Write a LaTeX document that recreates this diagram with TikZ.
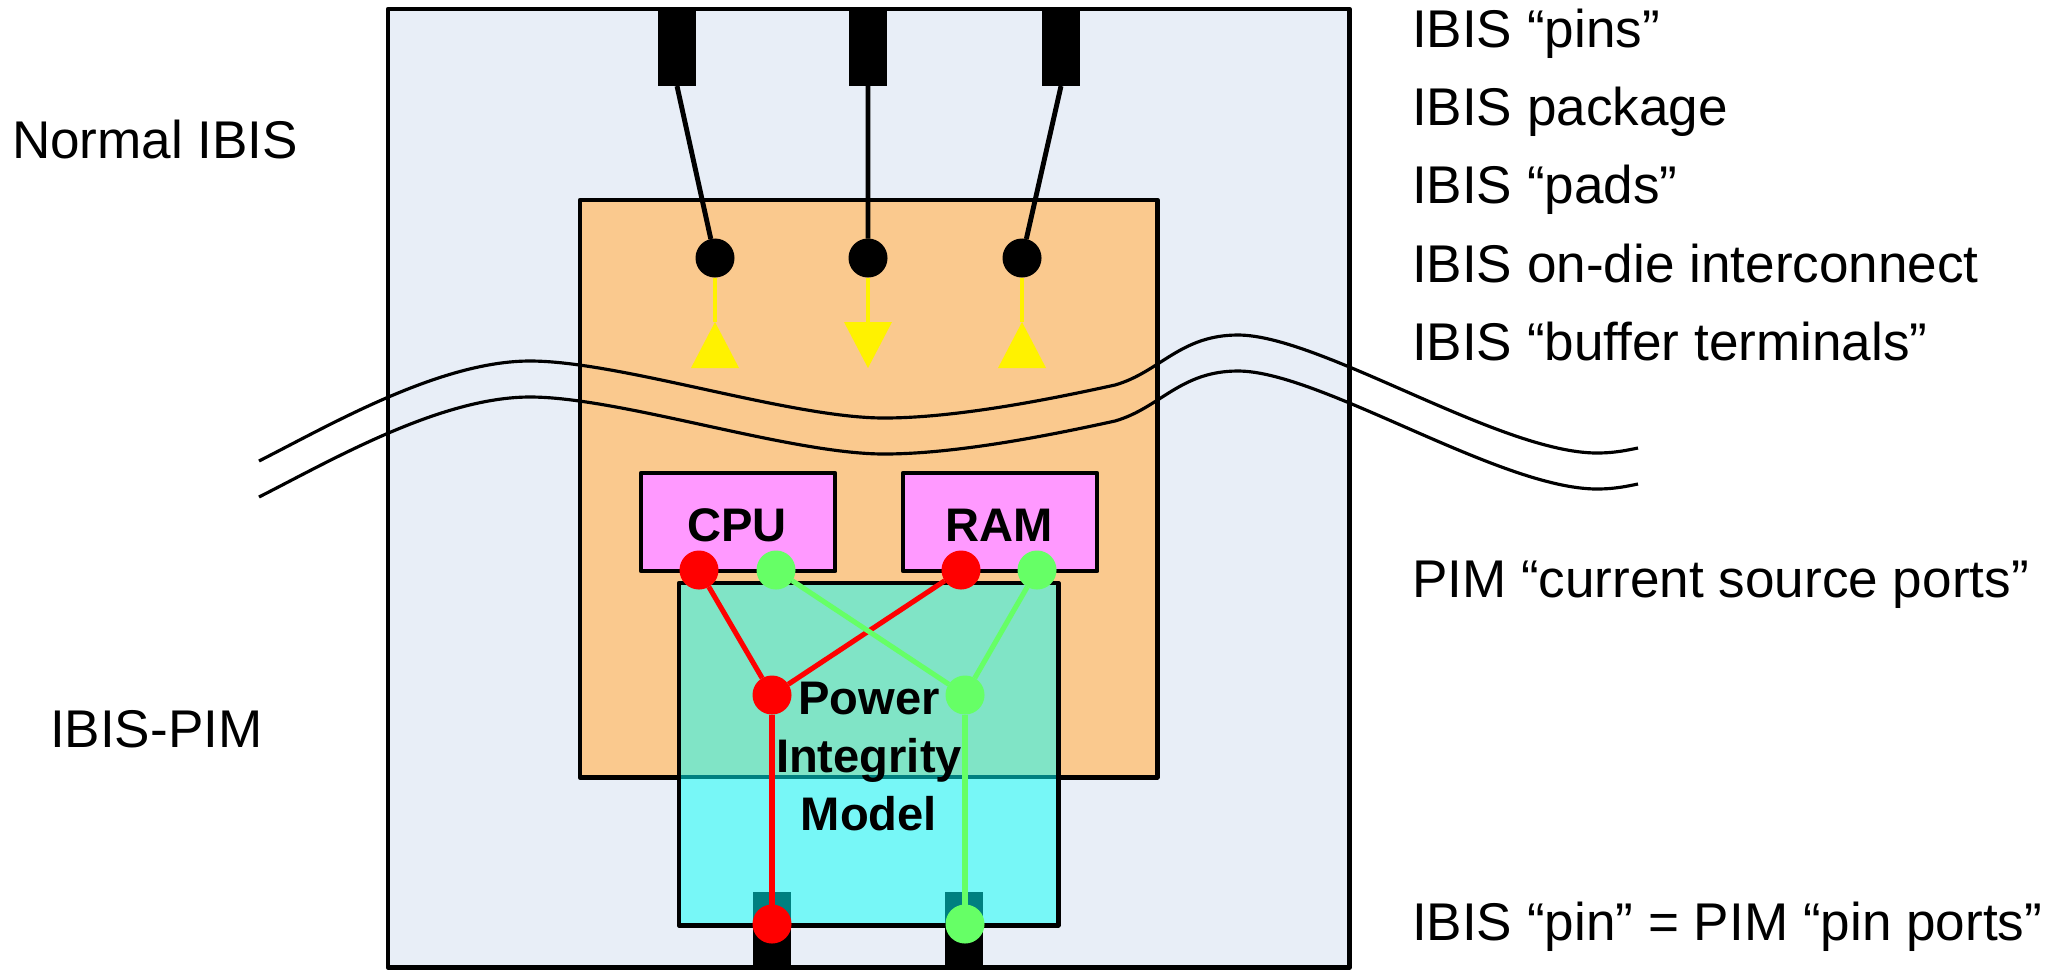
\documentclass[tikz,border=0pt]{standalone}
\usepackage{fontspec}
\setmainfont{Liberation Sans}
\definecolor{outerbg}{HTML}{E8EEF7}
\definecolor{orangebg}{HTML}{FAC98E}
\definecolor{chipc}{HTML}{FF99FF}
\definecolor{pimlow}{HTML}{77F7F7}
\definecolor{pimhigh}{HTML}{80E4C6}
\definecolor{tealc}{HTML}{008080}
\definecolor{gdot}{HTML}{66FF66}
\begin{document}
\begin{tikzpicture}[x=0.01cm,y=-0.01cm,
  box/.style={draw=black,line width=1.3pt,line join=round,rectangle,inner sep=0pt,outer sep=0pt,anchor=north west},
  pinbox/.style={draw=none,rectangle,inner sep=0pt,outer sep=0pt,anchor=north west,minimum width=0.38cm},
  dotnode/.style={circle,draw=none,inner sep=0pt,outer sep=0pt,minimum size=0.39cm},
  pinline/.style={draw=black,line width=1.4pt},
  yline/.style={draw=yellow,line width=1.4pt},
  rline/.style={draw=red,line width=1.45pt},
  gline/.style={draw=gdot,line width=1.45pt},
  wave/.style={draw=black,line width=0.9pt},
  lbl/.style={anchor=base west,inner sep=0pt,outer sep=0pt,font=\fontsize{15.1}{18}\selectfont},
  chiplbl/.style={inner sep=0pt,outer sep=0pt,font=\fontsize{13.4}{16.4}\selectfont\bfseries}]
\useasboundingbox (0,0) rectangle (2058,969);

% main boxes
\node[box,fill=outerbg,minimum width=9.61cm,minimum height=9.58cm] (outer) at (388,9) {};
\node[box,fill=orangebg,minimum width=5.77cm,minimum height=5.77cm] (die) at (580,200) {};

% top package pins
\node[pinbox,fill=black,minimum height=0.78cm] (p1) at (658,8) {};
\node[pinbox,fill=black,minimum height=0.78cm] (p2) at (849,8) {};
\node[pinbox,fill=black,minimum height=0.78cm] (p3) at (1042,8) {};

% pads
\node[dotnode,fill=black] (d1) at (715,258) {};
\node[dotnode,fill=black] (d2) at (868,258) {};
\node[dotnode,fill=black] (d3) at (1022,258) {};
\draw[pinline] (p1.south) -- (d1);
\draw[pinline] (p2.south) -- (d2);
\draw[pinline] (p3.south) -- (d3);

% buffer terminals
\coordinate (y1) at (715,322);
\coordinate (y2) at (868,322);
\coordinate (y3) at (1022,322);
\draw[yline] (d1) -- (y1);
\draw[yline] (d2) -- (y2);
\draw[yline] (d3) -- (y3);
\fill[yellow] (y1) -- (691,368) -- (739,368) -- cycle;
\fill[yellow] (844,322) -- (892,322) -- (868,368) -- cycle;
\fill[yellow] (y3) -- (998,368) -- (1046,368) -- cycle;

% break lines
\def\wavepath{(259,461) .. controls (330,425) and (440,361) .. (530,361)
  .. controls (620,361) and (790,418) .. (884,418)
  .. controls (960,418) and (1060,397) .. (1115,385)
  .. controls (1160,372) and (1180,335) .. (1238,335)
  .. controls (1320,335) and (1500,453) .. (1597,453)
  .. controls (1615,453) and (1628,450) .. (1638,448)}
\draw[wave] \wavepath;
\begin{scope}[shift={(0,36)}]
\draw[wave] \wavepath;
\end{scope}

% CPU and RAM
\node[box,fill=chipc,minimum width=1.94cm,minimum height=0.98cm] (cpu) at (641,473) {};
\node[box,fill=chipc,minimum width=1.94cm,minimum height=0.98cm] (ram) at (903,473) {};
\node[chiplbl,anchor=base] (cpulbl) at (737,541) {CPU};
\node[chiplbl,anchor=base] (ramlbl) at (999,541) {RAM};

% Power integrity model
\node[box,draw=none,fill=pimlow,minimum width=3.79cm,minimum height=3.42cm] (pim) at (679,583) {};
\fill[pimhigh] (679,583) rectangle (1058,777);
\draw[tealc,line width=1.3pt] (679,777) -- (1058,777);
\node[pinbox,fill=tealc,minimum height=0.33cm] (tp1) at (753,892) {};
\node[pinbox,fill=tealc,minimum height=0.33cm] (tp2) at (945,892) {};
\draw[black,line width=1.3pt,line join=round] (pim.north west) rectangle (pim.south east);
\node[pinbox,fill=black,minimum height=0.42cm] (bp1) at (753,925) {};
\node[pinbox,fill=black,minimum height=0.42cm] (bp2) at (945,925) {};

% ports
\node[dotnode,fill=red] (cr) at (699,570) {};
\node[dotnode,fill=gdot] (cg) at (776,570) {};
\node[dotnode,fill=red] (rr) at (961,570) {};
\node[dotnode,fill=gdot] (rg) at (1037,570) {};
\node[dotnode,fill=red] (mr) at (772,695) {};
\node[dotnode,fill=gdot] (mg) at (965,695) {};
\node[dotnode,fill=red] (br) at (772,924) {};
\node[dotnode,fill=gdot] (bg) at (965,924) {};
\draw[rline] (cr) -- (mr);
\draw[rline] (rr) -- (mr);
\draw[rline] (mr) -- (br);
\draw[gline] (cg) -- (mg);
\draw[gline] (rg) -- (mg);
\draw[gline] (mg) -- (bg);

\node[chiplbl,align=center,anchor=base] (pimlbl) at (869,830) {Power\\Integrity\\Model};

% labels
\node[lbl] (l1) at (1412,47) {IBIS “pins”};
\node[lbl] (l2) at (1412,125) {IBIS package};
\node[lbl] (l3) at (1412,203) {IBIS “pads”};
\node[lbl] (l4) at (1412,282) {IBIS on-die interconnect};
\node[lbl] (l5) at (1412,360) {IBIS “buffer terminals”};
\node[lbl] (l6) at (1412,597) {PIM “current source ports”};
\node[lbl] (l7) at (1412,940) {IBIS “pin” = PIM “pin ports”};
\node[lbl] (l8) at (12,158) {Normal IBIS};
\node[lbl] (l9) at (50,747) {IBIS-PIM};
\end{tikzpicture}
\end{document}
